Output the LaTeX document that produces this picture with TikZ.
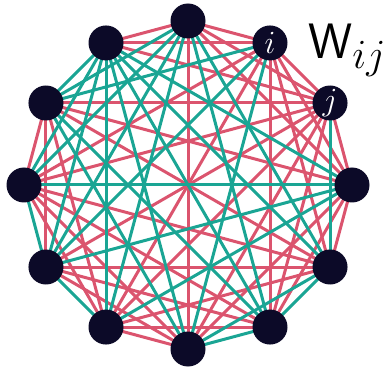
\documentclass[tikz,border=0pt]{standalone}
\usetikzlibrary{backgrounds}
\definecolor{wred}{RGB}{219,84,110}
\definecolor{wteal}{RGB}{26,165,148}
\definecolor{wnode}{RGB}{12,10,40}
\begin{document}
\begin{tikzpicture}[x=1pt,y=1pt,line join=round,line cap=round]
\tikzset{unit/.style={circle,fill=wnode,minimum size=35pt,inner sep=0pt},
	ulabel/.style={text=white,font=\Huge,scale=1.3},
	wpos/.style={wred,line width=3pt},
	wneg/.style={wteal,line width=3pt}}
\useasboundingbox (0,0) rectangle (389,-369);
\begin{scope}[shift={(188,-185)}]
	\foreach \k in {0,...,11}
	\node[unit] (n\k) at (\k*30:164) {};
	\node[ulabel] at (n2) {$i$};
	\node[ulabel] at (n1) {$j$};
	\begin{scope}[on background layer]
		% positive weights
		\foreach \a/\b in {0/1,0/2,0/3,0/5,0/9,0/10,0/11,1/2,1/3,1/4,1/5,1/6,1/7,1/8,1/9,1/10,
			2/3,2/4,2/6,2/8,2/10,2/11,3/4,3/9,5/6,5/7,5/8,5/11,6/8,6/9,6/10,6/11,
			7/9,7/10,7/11,8/9,8/10,8/11}
		\draw[wpos] (n\a.center) -- (n\b.center);
		% negative weights
		\foreach \a/\b in {0/4,0/6,0/7,0/8,1/11,2/5,2/7,2/9,3/5,3/6,3/7,3/8,3/10,3/11,
			4/5,4/6,4/7,4/8,4/9,4/10,4/11,5/9,5/10,6/7,7/8,9/10,9/11,10/11}
		\draw[wneg] (n\a.center) -- (n\b.center);
	\end{scope}
\end{scope}
\node[anchor=west,inner sep=0pt,scale=2] (wlab) at (308,-50) {\Huge$\mathsf{W}_{ij}$};
\end{tikzpicture}
\end{document}
